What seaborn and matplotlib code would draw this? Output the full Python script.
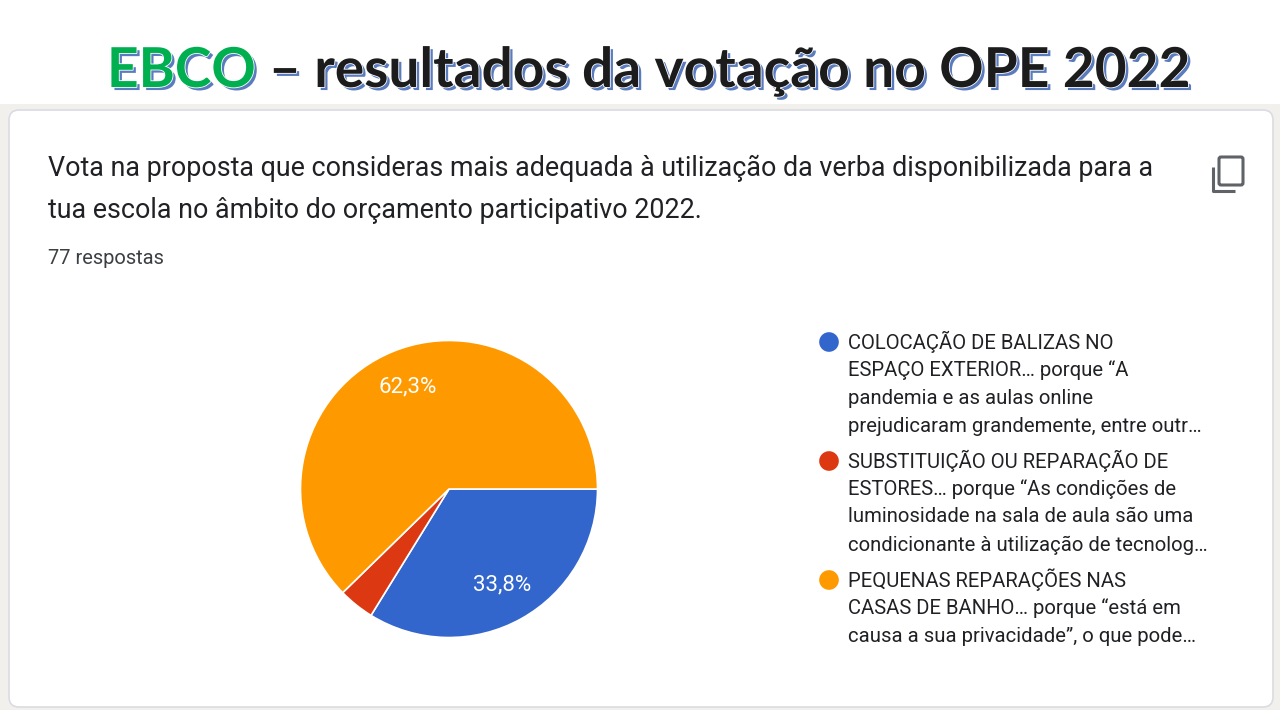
import matplotlib
matplotlib.use('Agg')
import matplotlib.pyplot as plt
import matplotlib.patheffects as pe
from matplotlib.patches import FancyBboxPatch, Rectangle
from matplotlib import font_manager
import seaborn as sns

sns.set_theme(style='white')
plt.rcParams['font.family'] = ['Roboto', 'DejaVu Sans']

# ---------------- data ----------------
title_brand = "EBCO"
title_rest = " – resultados da votação no OPE 2022"
question_lines = [
    "Vota na proposta que consideras mais adequada à utilização da verba disponibilizada para a",
    "tua escola no âmbito do orçamento participativo 2022.",
]
responses_text = "77 respostas"
categories = [
    ["COLOCAÇÃO DE BALIZAS NO", "ESPAÇO EXTERIOR… porque “A", "pandemia e as aulas online",
     "prejudicaram grandemente, entre outr…"],
    ["SUBSTITUIÇÃO OU REPARAÇÃO DE", "ESTORES… porque “As condições de",
     "luminosidade na sala de aula são uma", "condicionante à utilização de tecnolog…"],
    ["PEQUENAS REPARAÇÕES NAS", "CASAS DE BANHO… porque “está em",
     "causa a sua privacidade”, o que pode…"],
]
percentages = [33.8, 3.9, 62.3]
colors = sns.color_palette(['#3366cc', '#dc3912', '#ff9900'])

# ---------------- figure ----------------
fig = plt.figure(figsize=(12.8, 7.2), dpi=100)
fig.patch.set_facecolor('white')
bg = fig.add_axes([0, 0, 1, 1])
bg.set_xlim(0, 1280)
bg.set_ylim(720, 0)
bg.axis('off')

# page background strips and card
bg.add_patch(Rectangle((0, 104), 1280, 616, facecolor='#f1f0ec', edgecolor='none'))
bg.add_patch(Rectangle((0, 710), 1280, 10, facecolor='white', edgecolor='none'))
bg.add_patch(FancyBboxPatch((9, 110), 1264, 597, boxstyle='round,pad=0,rounding_size=10',
                            facecolor='white', edgecolor='#dadce0', linewidth=1.2))

# title
installed = {f.name for f in font_manager.fontManager.ttflist}
title_family = 'Liberation Sans Narrow' if 'Liberation Sans Narrow' in installed else 'Lato'
fig.canvas.draw()
renderer = fig.canvas.get_renderer()
shadow = [pe.SimplePatchShadow(offset=(2.2, -2.2), shadow_rgbFace='#5a7bbd', alpha=1.0),
          pe.Stroke(linewidth=1.2, foreground='white'), pe.Normal()]
tfont = dict(family=[title_family, 'DejaVu Sans'], fontweight='bold', fontsize=40)
t1 = bg.text(0, 87, title_brand, color='#00b050', va='baseline', ha='left', **tfont)
t2 = bg.text(0, 87, title_rest, color='#1c1c1c', va='baseline', ha='left', **tfont)
w1 = t1.get_window_extent(renderer).width
w2 = t2.get_window_extent(renderer).width
scale = (1190 - 107) / (w1 + w2)
t1.set_fontsize(40 * scale)
t2.set_fontsize(40 * scale)
w1 = t1.get_window_extent(renderer).width
t1.set_x(107)
t2.set_x(107 + w1)
t1.set_path_effects(shadow)
t2.set_path_effects(shadow)

# question text
for i, line in enumerate(question_lines):
    bg.text(48, 168 + i * 43, line, fontsize=19.4, color='#202124', va='center', ha='left')
bg.text(48, 258, responses_text, fontsize=14.5, color='#3c4043', va='center', ha='left')

# copy icon
bg.add_patch(FancyBboxPatch((1219, 157), 24, 28, boxstyle='round,pad=0,rounding_size=2',
                            facecolor='none', edgecolor='#5f6368', linewidth=2.2))
bg.plot([1213, 1213, 1235], [167, 191, 191], color='#5f6368', linewidth=2.2,
        solid_capstyle='butt', solid_joinstyle='round')

# legend
y = 342
for cat, col in zip(categories, colors):
    bg.scatter([829], [y], s=200, color=col, edgecolors='none')
    for j, line in enumerate(cat):
        bg.text(848, y + j * 28, line, fontsize=14.6, color='#202124', va='center', ha='left')
    y += (len(cat) - 1) * 28 + 35

# pie
ax = fig.add_axes([299 / 1280, (720 - 639) / 720, 300 / 1280, 300 / 720])


def fmt(p):
    return f"{p:.1f}%".replace('.', ',') if p > 5 else ''


ax.pie(percentages, colors=colors, startangle=0, counterclock=False,
       wedgeprops=dict(edgecolor='white', linewidth=1.2),
       autopct=fmt, pctdistance=0.74,
       textprops=dict(color='white', fontsize=16))
ax.set_xlim(-1.01, 1.01)
ax.set_ylim(-1.01, 1.01)
ax.set_aspect('equal')

fig.savefig('out.png', dpi=100, facecolor='white')
